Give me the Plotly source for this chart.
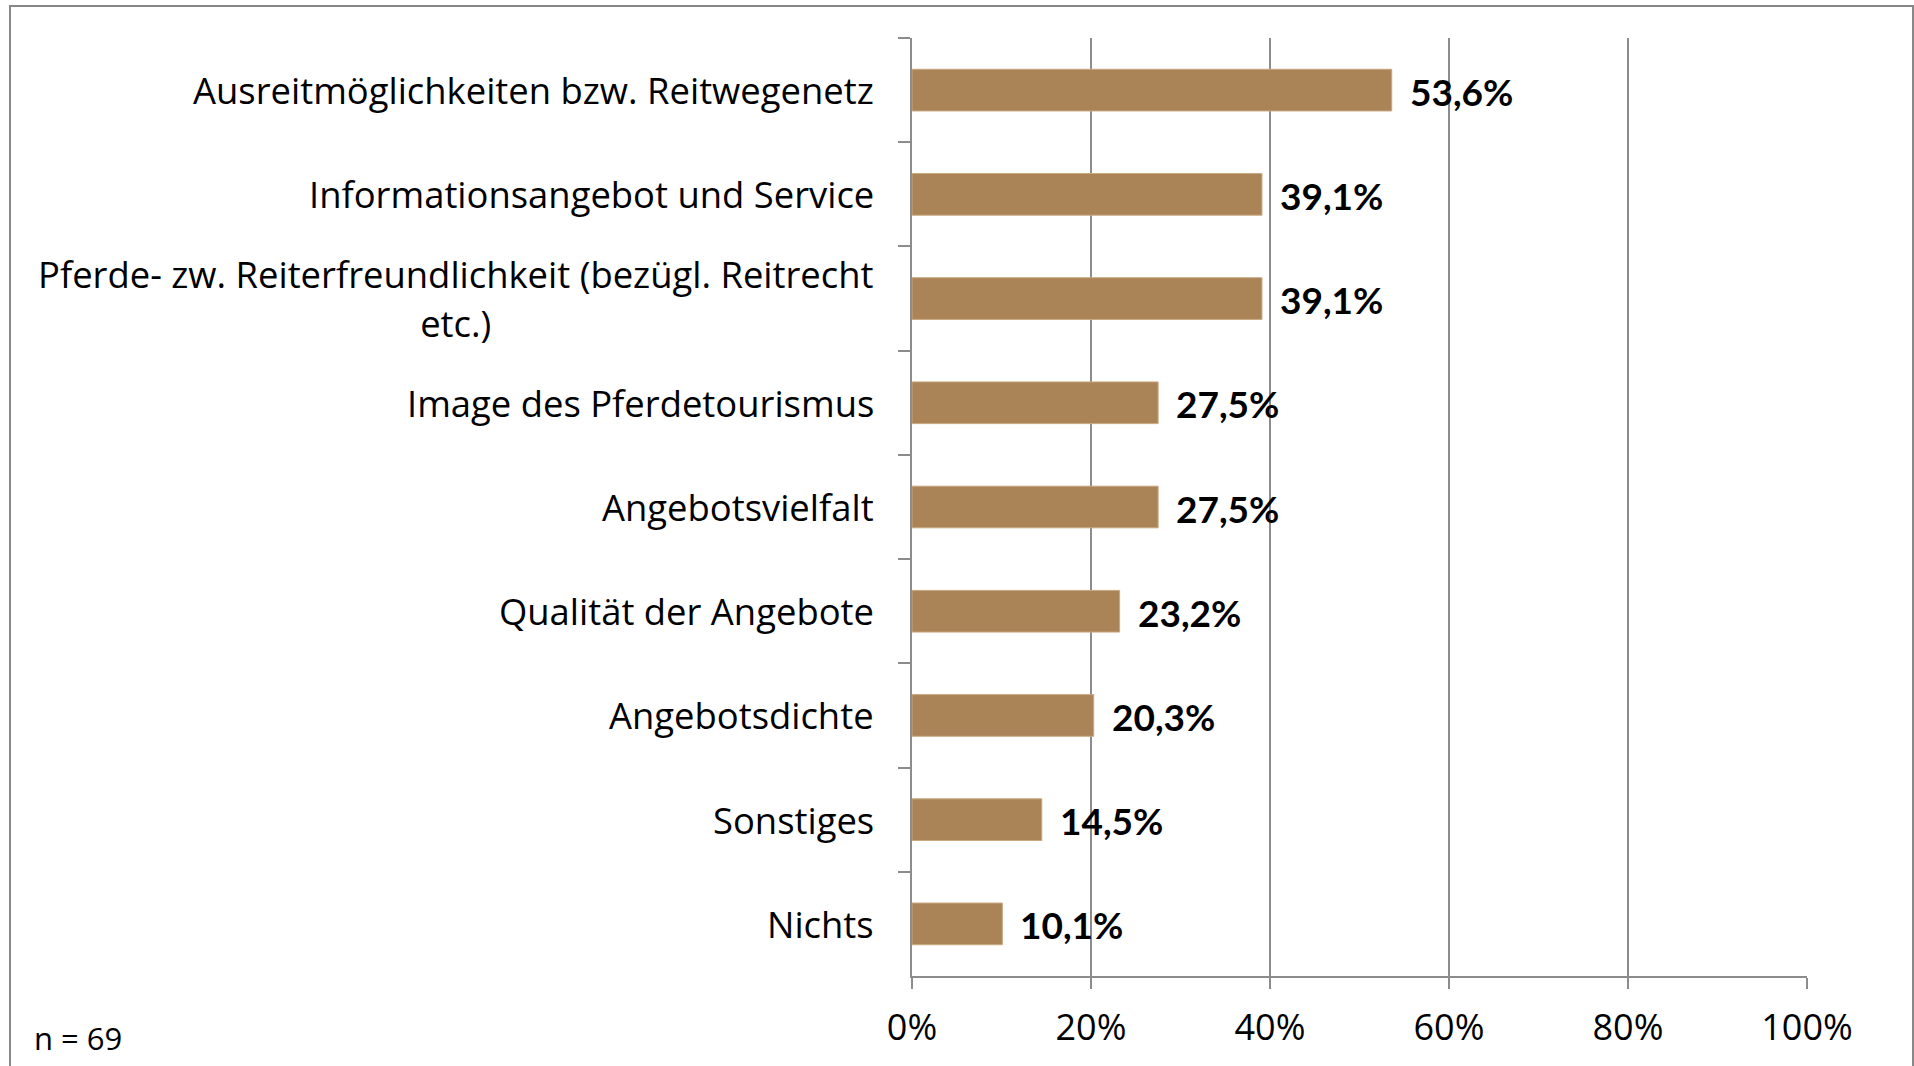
import plotly.graph_objects as go

categories = [
    "Ausreitmöglichkeiten bzw. Reitwegenetz",
    "Informationsangebot und Service",
    "Pferde- zw. Reiterfreundlichkeit (bezügl. Reitrecht<br>etc.)",
    "Image des Pferdetourismus",
    "Angebotsvielfalt",
    "Qualität der Angebote",
    "Angebotsdichte",
    "Sonstiges",
    "Nichts",
]
values = [53.6, 39.1, 39.1, 27.5, 27.5, 23.2, 20.3, 14.5, 10.1]
tick_vals = [0, 20, 40, 60, 80, 100]
tick_text = ["0%", "20%", "40%", "60%", "80%", "100%"]
note = "n = 69"

W, H = 1914, 1066
L, R, T, B = 912, 107, 38, 90
pw, ph = W - L - R, H - T - B

BAR = "#AA8357"
GRID = "#8C8C8C"

fig = go.Figure(go.Bar(
    x=values, y=categories, orientation="h",
    marker=dict(color=BAR, line=dict(color="#C9A882", width=1)),
    width=0.4, hoverinfo="x+y",
))

ann = []
for c, v in zip(categories, values):
    lines = c.split("<br>")
    txt = "<br>".join(f"<span style='font-size:36.4px'>{ln}</span>" for ln in lines)
    ann.append(dict(
        x=0, y=c, xref="x", yref="y", xanchor="right", yanchor="middle",
        xshift=-36, text=txt, showarrow=False, align="center",
        font=dict(family="Open Sans", size=38 if len(lines) > 1 else 36.4, color="#000000"),
    ))
    ann.append(dict(
        x=v, y=c, xref="x", yref="y", xanchor="left", yanchor="middle",
        xshift=16, yshift=-1, text=f"{v:.1f}".replace(".", ",") + "%", showarrow=False,
        font=dict(family="Lato", size=37, color="#000000", weight="bold"),
    ))

ann.append(dict(
    x=(32 - L) / pw, y=(H - B - 1038) / ph, xref="paper", yref="paper",
    xanchor="left", yanchor="middle", text=note, showarrow=False,
    font=dict(family="Open Sans", size=31, color="#000000"),
))

fig.update_layout(
    width=W, height=H,
    margin=dict(l=L, r=R, t=T, b=B),
    paper_bgcolor="white", plot_bgcolor="white",
    showlegend=False,
    annotations=ann,
    shapes=[dict(
        type="rect", xref="paper", yref="paper",
        x0=(10 - L) / pw, x1=(1913 - L) / pw,
        y0=(H - B - 1080) / ph, y1=(H - B - 6) / ph,
        line=dict(color="#888888", width=2), fillcolor="rgba(0,0,0,0)", layer="below",
    )],
    xaxis=dict(
        range=[0, 100], tickvals=tick_vals, ticktext=tick_text,
        showgrid=True, gridcolor=GRID, gridwidth=1.5,
        showline=True, linecolor=GRID, linewidth=2,
        ticks="outside", ticklen=11, tickcolor=GRID, tickwidth=1.5,
        tickfont=dict(family="Open Sans", size=36, color="#000000"),
        ticklabelstandoff=8,
        zeroline=False, fixedrange=True,
    ),
    yaxis=dict(
        autorange="reversed", type="category",
        showticklabels=False, showgrid=False,
        showline=True, linecolor=GRID, linewidth=1.5,
        ticks="outside", ticklen=12, tickcolor=GRID, tickwidth=1.5,
        tickson="boundaries", fixedrange=True,
    ),
)

fig.write_html(
    "out.html",
    config={"displayModeBar": False},
    post_script="document.body.style.margin='0';document.body.style.overflow='hidden';",
)
